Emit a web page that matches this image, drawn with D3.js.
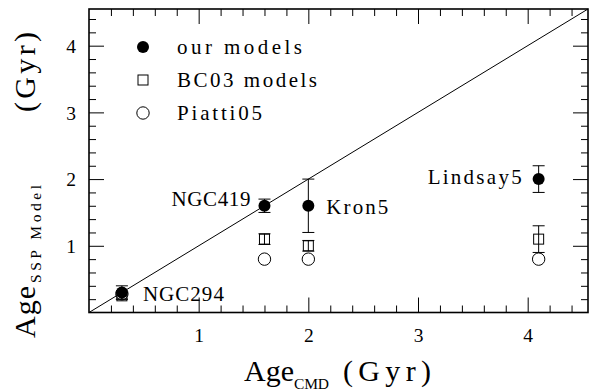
<!DOCTYPE html>
<html><head><meta charset="utf-8">
<script src="https://cdn.jsdelivr.net/npm/d3@7"></script>
<style>body{margin:0;background:#fff}svg{display:block}text{font-family:"Liberation Serif",serif;fill:#000}</style>
</head><body><svg id="c" width="589" height="390"></svg>
<script>
const clusters = ["NGC294","NGC419","Kron5","Lindsay5"];
const ageCMD = [0.3, 1.6, 2.0, 4.1];
const ourModels = [0.3, 1.6, 1.6, 2.0];
const ourErr = [0.1, 0.1, 0.4, 0.2];
const bc03 = [0.25, 1.1, 1.0, 1.1];
const bc03Err = [0.05, 0.08, 0.08, 0.2];
const piatti = [0.28, 0.8, 0.8, 0.8];
const legendLabels = ["our models","BC03 models","Piatti05"];
const majorTicks = [1,2,3,4];
const minorTicks = [0.2,0.4,0.6,0.8,1.2,1.4,1.6,1.8,2.2,2.4,2.6,2.8,3.2,3.4,3.6,3.8,4.2,4.4];

const FONT = "Liberation Serif";
const svg = d3.select("#c");
const L=89, R=588, T=9, B=312.5;
const x = d3.scaleLinear().domain([0,4.55]).range([L,R]);
const y = d3.scaleLinear().domain([0,4.55]).range([B,T]);

function axisPair(axisFn, scale, tr, withLabels){
  const gMinor = svg.append("g").attr("transform",tr)
    .call(axisFn(scale).tickValues(minorTicks).tickSizeInner(-7).tickSizeOuter(0).tickFormat(""));
  const gMajor = svg.append("g").attr("transform",tr)
    .call(axisFn(scale).tickValues(majorTicks).tickSizeInner(-15).tickSizeOuter(0).tickPadding(13)
      .tickFormat(withLabels ? d3.format("d") : ""));
  [gMinor,gMajor].forEach(g=>{g.select(".domain").remove(); g.selectAll("line").attr("stroke","#000").attr("stroke-width",1);});
  return gMajor;
}
const gb = axisPair(d3.axisBottom, x, `translate(0,${B})`, true);
gb.selectAll("text").attr("y",29.5).attr("dy",0).attr("font-size",19.5).attr("font-family",FONT);
axisPair(d3.axisTop, x, `translate(0,${T})`, false);
const gl = axisPair(d3.axisLeft, y, `translate(${L},0)`, true);
gl.selectAll("text").attr("dy","0.34em").attr("font-size",19.5).attr("font-family",FONT);
axisPair(d3.axisRight, y, `translate(${R},0)`, false);

svg.append("rect").attr("x",L).attr("y",T).attr("width",R-L).attr("height",B-T)
  .attr("fill","none").attr("stroke","#000").attr("stroke-width",1.6);

svg.append("path").datum(x.domain()).attr("d", d3.line().x(d=>x(d)).y(d=>y(d)))
  .attr("stroke","#000").attr("stroke-width",1).attr("fill","none");

const idx = d3.range(clusters.length);
svg.selectAll(".pc").data(idx).join("circle").attr("cx",i=>x(ageCMD[i])).attr("cy",i=>y(piatti[i]))
  .attr("r",6.2).attr("fill","none").attr("stroke","#000").attr("stroke-width",1);
function errBars(vals, errs){
  const g = svg.append("g");
  idx.forEach(i=>{
    const cx=x(ageCMD[i]), y0=y(vals[i]-errs[i]), y1=y(vals[i]+errs[i]);
    g.append("line").attr("x1",cx).attr("x2",cx).attr("y1",y0).attr("y2",y1);
    g.append("line").attr("x1",cx-6).attr("x2",cx+6).attr("y1",y0).attr("y2",y0);
    g.append("line").attr("x1",cx-6).attr("x2",cx+6).attr("y1",y1).attr("y2",y1);
  });
  g.selectAll("line").attr("stroke","#000").attr("stroke-width",1);
}
errBars(bc03, bc03Err);
svg.selectAll(".sq").data(idx).join("rect").attr("x",i=>x(ageCMD[i])-5).attr("y",i=>y(bc03[i])-5)
  .attr("width",10).attr("height",10).attr("fill","none").attr("stroke","#000").attr("stroke-width",1);
errBars(ourModels, ourErr);
svg.selectAll(".fc").data(idx).join("circle").attr("cx",i=>x(ageCMD[i])).attr("cy",i=>y(ourModels[i]))
  .attr("r",6).attr("fill","#000");

const lab = [
  {i:0, dx:21, dy:1, w:81},
  {i:1, dx:-93, dy:-6.5, w:79},
  {i:2, dx:18, dy:1, w:62},
  {i:3, dx:-111, dy:-2.5, w:94}
];
lab.forEach(l=>{
  svg.append("text").attr("x",x(ageCMD[l.i])+l.dx).attr("y",y(ourModels[l.i])+l.dy)
    .attr("dy","0.34em").attr("font-size",21).attr("textLength",l.w).attr("lengthAdjust","spacing")
    .text(clusters[l.i]);
});

const lx=143, ly=[47,80,113], lw=[125,140,85];
svg.append("circle").attr("cx",lx).attr("cy",ly[0]).attr("r",6).attr("fill","#000");
svg.append("rect").attr("x",lx-5).attr("y",ly[1]-5).attr("width",10).attr("height",10).attr("fill","none").attr("stroke","#000");
svg.append("circle").attr("cx",lx).attr("cy",ly[2]).attr("r",6.2).attr("fill","none").attr("stroke","#000");
legendLabels.forEach((t,k)=>{
  svg.append("text").attr("x",177).attr("y",ly[k]).attr("dy","0.34em").attr("font-size",21)
    .attr("textLength",lw[k]).attr("lengthAdjust","spacing").text(t);
});

const xt = svg.append("text").attr("x",244).attr("y",381).attr("font-size",30);
xt.append("tspan").attr("textLength",50).text("Age");
xt.append("tspan").attr("font-size",15.5).attr("dy",7.5).attr("textLength",35).text("CMD");
xt.append("tspan").attr("x",343).attr("dy",-7.5).attr("textLength",88).attr("lengthAdjust","spacing").text("(Gyr)");

const yt = svg.append("text").attr("transform","rotate(-90)").attr("x",-338).attr("y",35).attr("font-size",30);
yt.append("tspan").attr("textLength",52).text("Age");
yt.append("tspan").attr("x",-283).attr("font-size",15.5).attr("dy",6).attr("textLength",98).attr("lengthAdjust","spacing").text("SSP Model");
yt.append("tspan").attr("x",-112).attr("dy",-6).attr("textLength",80).attr("lengthAdjust","spacing").text("(Gyr)");
</script></body></html>
